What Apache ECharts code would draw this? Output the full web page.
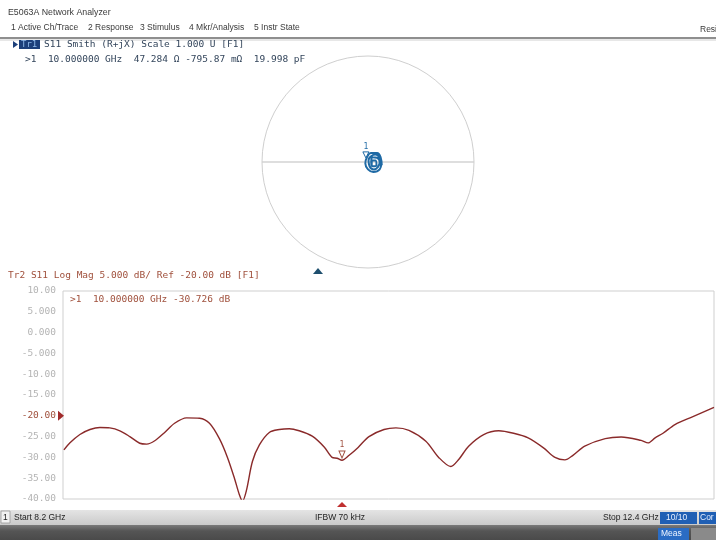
<!DOCTYPE html>
<html><head><meta charset="utf-8">
<script src="https://cdn.jsdelivr.net/npm/echarts@6/dist/echarts.min.js"></script>
<style>html,body{margin:0;padding:0;background:#fff}#c{width:716px;height:540px}</style>
</head><body><div id="c"></div>
<script>
// ---- Data ----
const freqGHz = [8.206,8.245,8.309,8.374,8.438,8.502,8.567,8.631,8.695,8.740,8.792,8.856,8.920,8.997,9.081,9.145,9.209,9.261,9.306,9.338,9.358,9.383,9.422,9.467,9.531,9.596,9.660,9.724,9.808,9.885,9.936,9.968,10.000,10.046,10.104,10.174,10.271,10.348,10.432,10.541,10.624,10.702,10.753,10.817,10.914,11.011,11.107,11.201,11.300,11.374,11.438,11.490,11.566,11.698,11.801,11.930,11.975,12.020,12.071,12.148,12.264,12.400];
const s11dB = [-28.2,-26.5,-24.5,-23.3,-22.8,-22.9,-23.6,-25.0,-26.6,-26.8,-26.0,-24.0,-21.8,-20.5,-20.6,-21.8,-25.5,-30.0,-35.0,-39.0,-40.5,-38.0,-31.0,-27.0,-24.0,-23.3,-23.1,-23.6,-24.9,-27.5,-30.0,-30.2,-30.7,-29.5,-27.6,-25.0,-23.3,-22.9,-23.5,-26.1,-30.0,-32.2,-30.5,-27.3,-24.5,-23.6,-24.2,-25.3,-27.7,-30.0,-30.6,-29.5,-27.3,-25.5,-25.1,-25.9,-26.5,-25.3,-24.2,-22.1,-20.2,-18.0];
const yTickValues = [10,5,0,-5,-10,-15,-20,-25,-30,-35,-40];
const yTickLabels = ['10.00','5.000','0.000','-5.000','-10.00','-15.00','-20.00','-25.00','-30.00','-35.00','-40.00'];
const startGHz = 8.2, stopGHz = 12.4;
const refLevel = -20;
const marker1 = {freq: 10.0, dB: -30.726};
// Smith trace (reflection coefficient, real / imag)
const smithRe = [0.13,0.12,0.085,0.03,-0.01,-0.025,0.00,0.05,0.11,0.125,0.11,0.07,0.03,0.005,0.015,0.055,0.095,0.11,0.085,0.045,0.03,0.045,0.08,0.07,0.045,0.035];
const smithIm = [-0.03,0.04,0.085,0.085,0.045,-0.015,-0.07,-0.095,-0.07,-0.015,0.04,0.07,0.055,0.015,-0.04,-0.07,-0.045,0.00,0.04,0.045,0.00,-0.04,-0.03,0.015,0.015,-0.025];
const smithMarker = {re: -0.02, im: 0.02};

const MONO = "'DejaVu Sans Mono','Liberation Mono',monospace";
const SANS = "'Liberation Sans','Open Sans',Arial,sans-serif";
const TR1 = '#34465c', TR2 = '#a0503c', TRACE2 = '#8a2a2a', TRACE1 = '#1f6aa5';

const toPolar = (re, im) => [Math.sqrt(re*re+im*im), (Math.atan2(im, re)*180/Math.PI + 360) % 360];
const smithData = smithRe.map((r,i)=>toPolar(r, smithIm[i]));
const lineData = freqGHz.map((f,i)=>[f, s11dB[i]]);

const chart = echarts.init(document.getElementById('c'), null, {renderer:'canvas'});
const option = {
  backgroundColor: '#ffffff',
  animation: false,
  polar: {center: [368, 162], radius: 106},
  angleAxis: {type:'value', min:0, max:360, interval:180, startAngle:0, clockwise:false,
    axisLine:{show:true, lineStyle:{color:'#cfcfcf', width:1}}, axisTick:{show:false}, axisLabel:{show:false},
    splitLine:{show:true, lineStyle:{color:'#bdbdbd', width:1}}},
  radiusAxis: {type:'value', min:0, max:1, show:false},
  grid: {left:63, right:2, top:291, bottom:41, show:true, borderColor:'#cfcfcf', borderWidth:1},
  xAxis: {type:'value', min:startGHz, max:stopGHz, axisLabel:{show:false}, axisTick:{show:false},
    axisLine:{show:false}, splitLine:{show:false}},
  yAxis: {type:'value', min:-40, max:10, interval:5,
    axisLine:{show:false}, axisTick:{show:false}, splitLine:{show:false},
    axisLabel:{margin:7, fontFamily:MONO, fontSize:9.5, color:'#b4b4b4',
      formatter: v => { const i = yTickValues.indexOf(v); const t = i>=0 ? yTickLabels[i] : '';
        return v === refLevel ? '{r|'+t+'}' : t; },
      rich:{r:{color:'#a0503c', fontFamily:MONO, fontSize:9.5}}}},
  series: [
    {type:'line', coordinateSystem:'polar', data:smithData, smooth:0.5, showSymbol:false,
     lineStyle:{color:TRACE1, width:2},
     markPoint:{symbol:'triangle', symbolRotate:180, symbolSize:[6,6], symbolOffset:[0,-5],
       itemStyle:{color:'#ffffff', borderColor:TRACE1, borderWidth:1},
       label:{show:true, position:'top', distance:0, formatter:'1', color:TRACE1, fontSize:8, fontFamily:MONO},
       data:[{coord: toPolar(smithMarker.re, smithMarker.im)}]}},
    {type:'line', xAxisIndex:0, yAxisIndex:0, data:lineData, smooth:0.3, showSymbol:false,
     lineStyle:{color:TRACE2, width:1.4},
     markPoint:{symbol:'triangle', symbolRotate:180, symbolSize:[6,7], symbolOffset:[0,-6],
       itemStyle:{color:'#ffffff', borderColor:'#a05040', borderWidth:1},
       label:{show:true, position:'top', distance:1, formatter:'1', color:'#a05040', fontSize:8, fontFamily:MONO},
       data:[{coord:[marker1.freq, marker1.dB]}]}}
  ]
};
chart.setOption(option);

const refPx = chart.convertToPixel({gridIndex:0}, [startGHz, refLevel]);
const mkPx = chart.convertToPixel({gridIndex:0}, [marker1.freq, -40]);

const txt = (x,y,t,fill,size,font,extra) => Object.assign({type:'text', x, y,
  style:{text:t, fill, fontSize:size, fontFamily:font, textVerticalAlign:'middle', verticalAlign:'middle'}}, extra||{});

const graphics = [
  txt(8,13,'E5063A Network Analyzer','#3a3a3a',8.8,SANS),
  txt(11,28,'1 Active Ch/Trace','#3a3a3a',8.5,SANS),
  txt(88,28,'2 Response','#3a3a3a',8.5,SANS),
  txt(140,28,'3 Stimulus','#3a3a3a',8.5,SANS),
  txt(189,28,'4 Mkr/Analysis','#3a3a3a',8.5,SANS),
  txt(254,28,'5 Instr State','#3a3a3a',8.5,SANS),
  txt(700,30,'Resi','#3a3a3a',8.5,SANS),
  {type:'line', shape:{x1:0,y1:38,x2:716,y2:38}, style:{stroke:'#6a6a6a', lineWidth:1.5}},
  {type:'line', shape:{x1:0,y1:40,x2:716,y2:40}, style:{stroke:'#d0d0d0', lineWidth:1}},
  {type:'polygon', shape:{points:[[13,41],[18,44.5],[13,48]]}, style:{fill:'#1c3f7a'}},
  {type:'rect', shape:{x:19,y:40,width:21,height:9}, style:{fill:'#1c3f7a'}},
  txt(21,44.5,'Tr1','#8fb8e8',9,MONO),
  txt(44,44.5,'S11 Smith (R+jX) Scale 1.000 U [F1]',TR1,9.5,MONO),
  txt(25,60,'>1  10.000000 GHz  47.284 Ω -795.87 mΩ  19.998 pF',TR1,9.5,MONO),
  {type:'polygon', shape:{points:[[313,274],[318,268],[323,274]]}, style:{fill:'#1e4f6e'}},
  txt(8,276,'Tr2 S11 Log Mag 5.000 dB/ Ref -20.00 dB [F1]',TR2,9.5,MONO),
  txt(70,300,'>1  10.000000 GHz -30.726 dB',TR2,9.5,MONO),
  {type:'polygon', shape:{points:[[refPx[0]-5,refPx[1]-5],[refPx[0]+1,refPx[1]],[refPx[0]-5,refPx[1]+5]]}, style:{fill:'#a02a2a'}},
  {type:'polygon', shape:{points:[[mkPx[0]-5,mkPx[1]+8],[mkPx[0],mkPx[1]+3],[mkPx[0]+5,mkPx[1]+8]]}, style:{fill:'#c03030'}},
  {type:'rect', shape:{x:0,y:510,width:716,height:15}, style:{fill:new echarts.graphic.LinearGradient(0,0,0,1,[{offset:0,color:'#e4e4e4'},{offset:1,color:'#cacaca'}])}},
  {type:'rect', shape:{x:1,y:511,width:9,height:12}, style:{fill:'#f2f2f2', stroke:'#9a9a9a', lineWidth:0.8}},
  txt(3,517.5,'1','#222',8.5,SANS),
  txt(14,517.5,'Start 8.2 GHz','#222',8.5,SANS),
  txt(315,517.5,'IFBW 70 kHz','#222',8.5,SANS),
  txt(603,517.5,'Stop 12.4 GHz','#222',8.5,SANS),
  {type:'rect', shape:{x:660,y:512,width:37,height:12}, style:{fill:'#1f5fb4'}},
  txt(666,518,'10/10','#e8f0ff',8.5,SANS),
  {type:'rect', shape:{x:699,y:512,width:17,height:12}, style:{fill:'#1f5fb4'}},
  txt(700,518,'Cor','#e8f0ff',8.5,SANS),
  {type:'rect', shape:{x:0,y:525,width:716,height:15}, style:{fill:new echarts.graphic.LinearGradient(0,0,0,1,[{offset:0,color:'#7a7a7a'},{offset:0.4,color:'#555'},{offset:1,color:'#4a4a4a'}])}},
  {type:'rect', shape:{x:658,y:528,width:31,height:12}, style:{fill:'#2a6cc4'}},
  txt(661,534,'Meas','#eef4ff',8.5,SANS),
  {type:'rect', shape:{x:691,y:528,width:25,height:12}, style:{fill:'#8a8a8a'}}
];
chart.setOption({graphic: graphics});
</script></body></html>
